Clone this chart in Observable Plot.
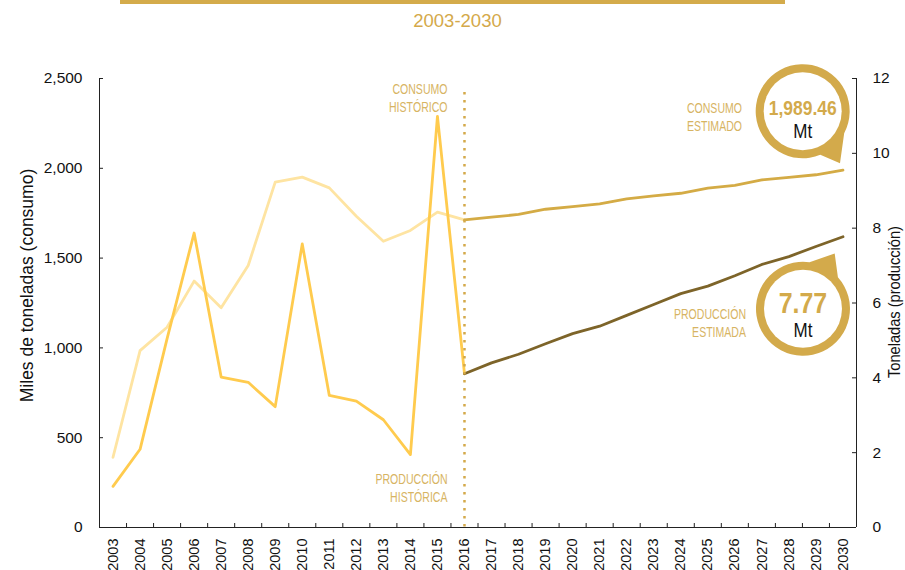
<!DOCTYPE html>
<html>
<head>
<meta charset="utf-8">
<script src="https://cdn.jsdelivr.net/npm/d3@7"></script>
<script src="https://cdn.jsdelivr.net/npm/@observablehq/plot@0.6"></script>
<style>
  body { margin: 0; background: #fff; }
  #header { position: relative; width: 905px; height: 40px; }
  #bar { position: absolute; left: 120px; top: 0; width: 665px; height: 4px; background: #D4AB4B; }
  #title { position: absolute; left: 0; top: 10px; width: 915px; text-align: center;
           color: #D4A94A; font: 18.5px "Liberation Sans", Arial, sans-serif; }
</style>
</head>
<body>
<div id="header"><div id="bar"></div><div id="title">2003-2030</div></div>
<div id="chart"></div>
<script>
// ---------- data ----------
const years = [2003, 2004, 2005, 2006, 2007, 2008, 2009, 2010, 2011, 2012, 2013, 2014, 2015, 2016,
               2017, 2018, 2019, 2020, 2021, 2022, 2023, 2024, 2025, 2026, 2027, 2028, 2029, 2030];
const histYears = [2003, 2004, 2005, 2006, 2007, 2008, 2009, 2010, 2011, 2012, 2013, 2014, 2015, 2016];
const estYears = [2016, 2017, 2018, 2019, 2020, 2021, 2022, 2023, 2024, 2025, 2026, 2027, 2028, 2029, 2030];
// consumo: miles de toneladas (eje izquierdo)
const consumoHist = [391, 985, 1115, 1372, 1223, 1459, 1923, 1951, 1891, 1733, 1594, 1654, 1756, 1713];
const consumoEst = [1713, 1728, 1743, 1772, 1787, 1802, 1830, 1846, 1861, 1890, 1905, 1935, 1949, 1964, 1989.46];
// producción: toneladas (eje derecho)
const produccionHist = [1.10, 2.09, 5.05, 7.87, 4.02, 3.88, 3.23, 7.58, 3.53, 3.38, 2.88, 1.95, 10.99, 4.11];
const produccionEst = [4.11, 4.40, 4.63, 4.91, 5.18, 5.38, 5.67, 5.96, 6.25, 6.45, 6.73, 7.03, 7.24, 7.51, 7.77];
const consumoTicks = [0, 500, 1000, 1500, 2000, 2500];
const produccionTicks = [0, 2, 4, 6, 8, 10, 12];
const divisionYear = 2016;
const labels = {
  consumoHist: "CONSUMO\nHISTÓRICO",
  produccionHist: "PRODUCCIÓN\nHISTÓRICA",
  consumoEst: "CONSUMO\nESTIMADO",
  produccionEst: "PRODUCCIÓN\nESTIMADA",
  unit: "Mt",
  yLeft: "Miles de toneladas (consumo)",
  yRight: "Toneladas (producción)"
};

// ---------- layout / style ----------
const W = 905, H = 530, ML = 99, MR = 49, MT = 38, MB = 43;
const FW = W - ML - MR, FH = H - MT - MB;
const FONT = '"Liberation Sans", Arial, sans-serif';
const GOLD = "#D3AA4B", LABEL = "#D7B463", AXIS = "#222";

const consMax = consumoTicks[consumoTicks.length - 1];
const prodMax = produccionTicks[produccionTicks.length - 1];
const toY = p => p * consMax / prodMax;

const histData = histYears.map((year, i) => ({year, consumo: consumoHist[i], produccion: produccionHist[i]}));
const estData = estYears.map((year, i) => ({year, consumo: consumoEst[i], produccion: produccionEst[i]}));
const last = estData[estData.length - 1];
const xDomain = [years[0] - 0.5, years[years.length - 1] + 0.5];
const fmtCons = d3.format(",.2f"), fmtProd = d3.format(".2f");

// speech-bubble symbol: circle of radius R with a pointed tail toward tip
function bubble(R, tip, a0deg, a1deg) {
  const a0 = a0deg * Math.PI / 180, a1 = a1deg * Math.PI / 180;
  return {
    draw(ctx) {
      ctx.moveTo(tip[0], tip[1]);
      ctx.lineTo(R * Math.cos(a1), R * Math.sin(a1));
      ctx.arc(0, 0, R, a1, a0, false);
      ctx.closePath();
    }
  };
}
const C = {dx: -40.3, dy: -59};   // consumo callout centre offset from its endpoint
const P = {dx: -40, dy: 72};      // producción callout centre offset from its endpoint
const capLabel = {textAnchor: "end", lineAnchor: "middle", lineHeight: 1.17, fontSize: 15.5, fill: LABEL};

const chart = Plot.plot({
  width: W, height: H,
  marginLeft: ML, marginRight: MR, marginTop: MT, marginBottom: MB,
  x: {type: "linear", domain: xDomain},
  y: {domain: [0, consMax]},
  style: {fontFamily: FONT, fontSize: "15px", color: "#111", background: "#fff"},
  marks: [
    // series
    Plot.line(histData, {x: "year", y: "consumo", stroke: "#FEE4A2", strokeWidth: 2.8}),
    Plot.line(histData, {x: "year", y: d => toY(d.produccion), stroke: "#FFCB4E", strokeWidth: 2.8}),
    Plot.line(estData, {x: "year", y: "consumo", stroke: "#D4AB45", strokeWidth: 2.8}),
    Plot.line(estData, {x: "year", y: d => toY(d.produccion), stroke: "#7D6429", strokeWidth: 2.8}),
    // divider
    Plot.ruleX([divisionYear], {stroke: "#D4A94A", strokeWidth: 2.5, strokeDasharray: "2.5 5.5", insetTop: 14}),
    // frame lines
    Plot.ruleX(xDomain, {stroke: AXIS}),
    Plot.ruleY([0], {stroke: AXIS}),
    // inward tick marks
    Plot.tickY(consumoTicks, {y: d => d, insetRight: FW - 4, stroke: AXIS}),
    Plot.tickY(produccionTicks, {y: toY, insetLeft: FW - 4, stroke: AXIS}),
    Plot.tickX(years.slice(0, -1), {x: d => d + 0.5, insetTop: FH - 4, stroke: AXIS}),
    // axes
    Plot.axisY({anchor: "left", ticks: consumoTicks, tickSize: 0, tickPadding: 17,
                tickFormat: d3.format(","), fontSize: 15.5, label: null}),
    Plot.axisY({anchor: "right", ticks: produccionTicks.map(toY), tickSize: 0, tickPadding: 16,
                tickFormat: d => String(Math.round(d * prodMax / consMax)), fontSize: 15.5, label: null}),
    Plot.axisX({ticks: years, tickFormat: d => String(d), tickRotate: -90, tickSize: 0,
                tickPadding: 11, fontSize: 14.5, label: null}),
    // axis titles
    Plot.text([labels.yLeft], {frameAnchor: "left", textAnchor: "middle", lineAnchor: "middle",
      dx: -72, dy: -17.5, rotate: -90, fontSize: 17.5, fill: "#111"}),
    Plot.text([labels.yRight], {frameAnchor: "right", textAnchor: "middle", lineAnchor: "middle",
      dx: 38, dy: -1, rotate: -90, fontSize: 17, fill: "#111"}),
    // period labels
    Plot.text([{year: divisionYear, t: labels.consumoHist}], {x: "year", text: "t", frameAnchor: "top",
      dx: -17, dy: 19, ...capLabel}),
    Plot.text([{year: divisionYear, t: labels.produccionHist}], {x: "year", text: "t", frameAnchor: "bottom",
      dx: -17, dy: -40.5, ...capLabel}),
    Plot.text([last], {x: "year", y: "consumo", text: () => labels.consumoEst,
      dx: -101, dy: -54, ...capLabel}),
    Plot.text([last], {x: "year", y: d => toY(d.produccion), text: () => labels.produccionEst,
      dx: -97, dy: 85, ...capLabel}),
    // callouts
    Plot.dot([last], {x: "year", y: "consumo", r: 47, symbol: bubble(47, [37.3, 52], 28, 68),
      fill: GOLD, dx: C.dx, dy: C.dy}),
    Plot.dot([last], {x: "year", y: "consumo", r: 39, fill: "#fff", dx: C.dx, dy: C.dy}),
    Plot.text([last], {x: "year", y: "consumo", text: d => fmtCons(d.consumo),
      dx: C.dx, dy: C.dy - 3, fill: GOLD, fontWeight: "bold", fontSize: 21}),
    Plot.text([last], {x: "year", y: "consumo", text: () => labels.unit,
      dx: C.dx, dy: C.dy + 20, fill: "#111", fontSize: 20}),
    Plot.dot([last], {x: "year", y: d => toY(d.produccion), r: 47, symbol: bubble(47, [31.7, -55.3], -82, -42),
      fill: GOLD, dx: P.dx, dy: P.dy}),
    Plot.dot([last], {x: "year", y: d => toY(d.produccion), r: 39, fill: "#fff", dx: P.dx, dy: P.dy}),
    Plot.text([last], {x: "year", y: d => toY(d.produccion), text: d => fmtProd(d.produccion),
      dx: P.dx, dy: P.dy - 5, fill: GOLD, fontWeight: "bold", fontSize: 30}),
    Plot.text([last], {x: "year", y: d => toY(d.produccion), text: () => labels.unit,
      dx: P.dx, dy: P.dy + 22, fill: "#111", fontSize: 20})
  ]
});
document.getElementById("chart").appendChild(chart);

// condense some texts to mimic the condensed typeface of the original
const squeezeFactor = new Map([
  [labels.consumoHist.replace("\n", ""), 0.68],
  [labels.produccionHist.replace("\n", ""), 0.68],
  [labels.consumoEst.replace("\n", ""), 0.68],
  [labels.produccionEst.replace("\n", ""), 0.68],
  [fmtCons(last.consumo), 0.83],
  [fmtProd(last.produccion), 0.83],
  [labels.unit, 0.85],
  [labels.yRight, 0.86]
]);
chart.querySelectorAll("text").forEach(t => {
  const f = squeezeFactor.get(t.textContent);
  if (!f) return;
  const parts = t.querySelectorAll("tspan");
  (parts.length ? Array.from(parts) : [t]).forEach(n => {
    const L = n.getComputedTextLength();
    n.setAttribute("textLength", (L * f).toFixed(2));
    n.setAttribute("lengthAdjust", "spacingAndGlyphs");
  });
});
</script>
</body>
</html>
